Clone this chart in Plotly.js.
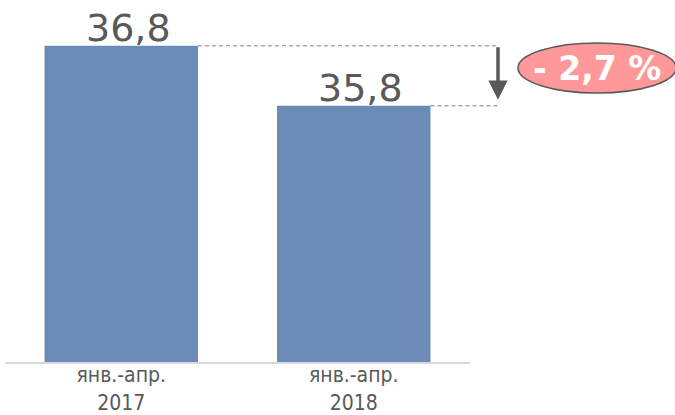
<!DOCTYPE html>
<html>
<head>
<meta charset="utf-8">
<script src="https://cdn.plot.ly/plotly-3.0.1.min.js"></script>
<style>html,body{margin:0;padding:0;background:#fff;}#chart{width:675px;height:415px;}</style>
</head>
<body>
<div id="chart"></div>
<script>
const categories = ['янв.-апр.<br>2017', 'янв.-апр.<br>2018'];
const values = [36.8, 35.8];
const valueLabels = ['36,8', '35,8'];
const changeLabel = '- 2,7 %';

const barColor = '#6c8cb8';
const textGray = '#595959';

const W = 675, H = 415;
const margin = {l: 5, r: 205, t: 10, b: 53};
const plotW = W - margin.l - margin.r;
const plotH = H - margin.t - margin.b;
const px = (x) => (x - margin.l) / plotW;          // pixel x -> paper x
const py = (y) => (H - margin.b - y) / plotH;      // pixel y -> paper y

const trace = {
  type: 'bar',
  x: categories,
  y: values,
  marker: {color: barColor},
  hoverinfo: 'none'
};

const barHalf = 0.33; // half of bar width in category units
const toPaperX = (d) => (d + 0.5) / categories.length;

const labelAnns = values.map((v, i) => ({
  xref: 'x', yref: 'y', x: categories[i], y: v,
  text: valueLabels[i], showarrow: false,
  xanchor: 'center', yanchor: 'bottom', xshift: 7, yshift: -6,
  font: {family: 'DejaVu Sans', size: 38, color: textGray}
}));

const layout = {
  width: W, height: H,
  margin: margin,
  paper_bgcolor: '#ffffff',
  plot_bgcolor: '#ffffff',
  bargap: 0.34,
  showlegend: false,
  xaxis: {
    type: 'category',
    range: [-0.5, 1.5],
    showline: true, linecolor: '#d9d9d9', linewidth: 2,
    ticks: '', showgrid: false, zeroline: false,
    ticklabelstandoff: -7,
    tickfont: {family: 'DejaVu Sans Condensed, DejaVu Sans', size: 21, color: textGray}
  },
  yaxis: {
    range: [31.53, 31.53 + plotH / 60],
    visible: false, showgrid: false, zeroline: false
  },
  shapes: [
    {type: 'line', xref: 'paper', yref: 'y',
     x0: toPaperX(0 + barHalf), x1: px(498), y0: values[0], y1: values[0],
     line: {color: '#7f7f7f', width: 1, dash: '4px,3px'}},
    {type: 'line', xref: 'paper', yref: 'y',
     x0: toPaperX(1 + barHalf), x1: px(498), y0: values[1], y1: values[1],
     line: {color: '#7f7f7f', width: 1, dash: '4px,3px'}},
    {type: 'circle', xref: 'paper', yref: 'paper',
     x0: px(518), x1: px(676), y0: py(93), y1: py(43),
     fillcolor: '#ff9999', line: {color: '#595959', width: 1.5}, layer: 'above'}
  ],
  annotations: labelAnns.concat([
    {xref: 'paper', yref: 'y', x: px(498), y: values[1],
     axref: 'pixel', ayref: 'y', ax: 0, ay: values[0],
     text: '', showarrow: true, arrowhead: 2, arrowsize: 1.1, arrowwidth: 3.5,
     arrowcolor: '#595959', standoff: 6},
    {xref: 'paper', yref: 'paper', x: px(597), y: py(68),
     text: '<b>' + changeLabel + '</b>', showarrow: false,
     font: {family: 'DejaVu Sans', size: 33, color: '#ffffff'},
     xanchor: 'center', yanchor: 'middle'}
  ])
};

Plotly.newPlot('chart', [trace], layout, {staticPlot: true, displayModeBar: false});
</script>
</body>
</html>
